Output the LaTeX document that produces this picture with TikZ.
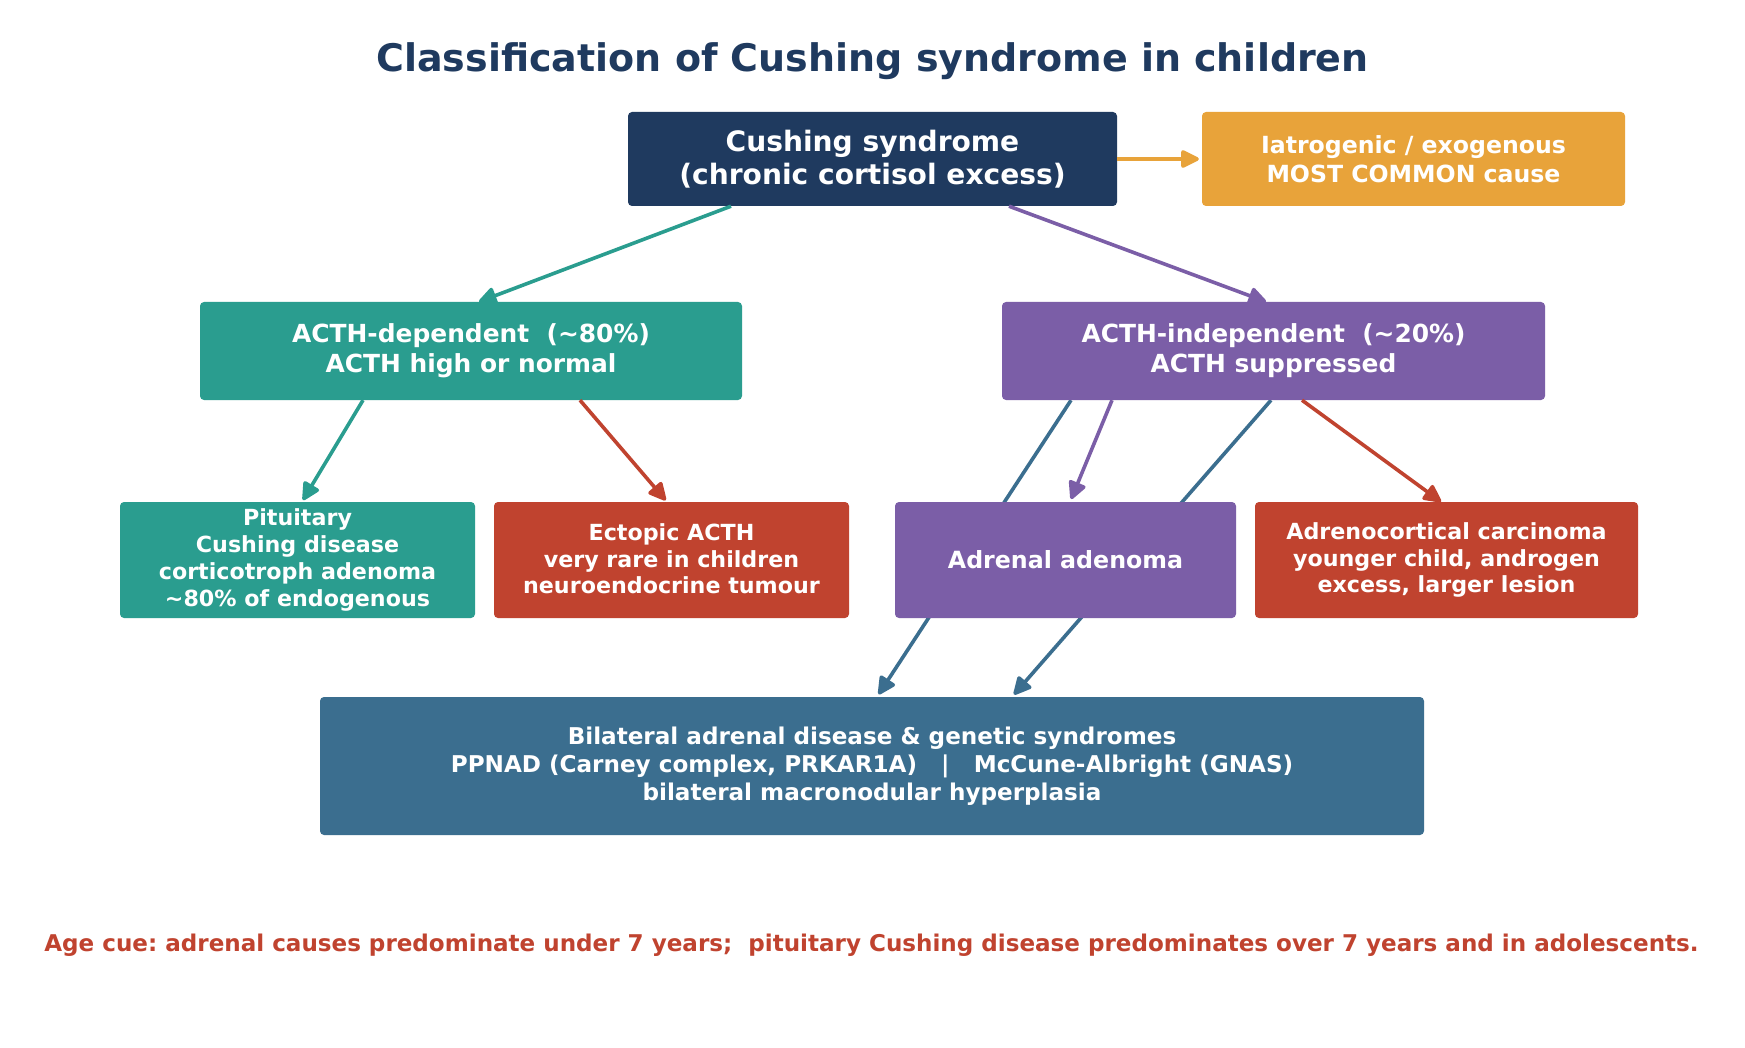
\documentclass[tikz,border=0pt]{standalone}
\usepackage{fontspec}
\setmainfont{DejaVu Sans}
\usetikzlibrary{arrows.meta}
\pgfdeclarelayer{bg}
\pgfsetlayers{bg,main}
\definecolor{navy}{HTML}{1F3A5F}
\definecolor{orng}{HTML}{E8A33A}
\definecolor{teal2}{HTML}{2A9D8F}
\definecolor{purp}{HTML}{7B5EA7}
\definecolor{redd}{HTML}{C0432F}
\definecolor{steel}{HTML}{3B6E8F}
\newcommand\fsz[2]{\bfseries\fontsize{#1}{#2}\selectfont}
\frenchspacing
\begin{document}
\begin{tikzpicture}[x=1pt,y=-1pt,
  box/.style={rectangle, rounded corners=4pt, inner sep=0pt, align=center, text=white},
  arr/.style={line width=3.6pt, -{Triangle[length=20pt,width=19pt,round]}}]
\begin{pgfonlayer}{bg}
\fill[white] (0,0) rectangle (1745,1048);
\end{pgfonlayer}
\useasboundingbox (0,0) rectangle (1745,1048);

\node[text=navy, font=\fsz{38}{45}] (title) at (872.5,61) {Classification of Cushing syndrome in children};

\node[box, fill=navy, minimum width=489pt, minimum height=94pt, font=\fsz{28.1}{32.5}] (cs) at (872.5,159) {Cushing syndrome\\(chronic cortisol excess)};
\node[box, fill=orng, minimum width=423pt, minimum height=94pt, font=\fsz{23.6}{28.5}] (iat) at (1413.5,159) {Iatrogenic / exogenous\\MOST COMMON cause};

\node[box, fill=teal2, minimum width=542pt, minimum height=98pt, font=\fsz{24.9}{30}] (dep) at (471,351) {ACTH-dependent\ \ (\textasciitilde80\%)\\ACTH high or normal};
\node[box, fill=purp, minimum width=543pt, minimum height=98pt, font=\fsz{24.9}{30}] (ind) at (1273.5,351) {ACTH-independent\ \ (\textasciitilde20\%)\\ACTH suppressed};

\node[box, fill=teal2, minimum width=355pt, minimum height=116pt, font=\fsz{22.2}{26.7}] (pit) at (297.5,560) {Pituitary\\Cushing disease\\corticotroph adenoma\\\textasciitilde80\% of endogenous};
\node[box, fill=redd, minimum width=355pt, minimum height=116pt, font=\fsz{22.2}{26.7}] (ect) at (671.5,560) {\raisebox{0pt}[0pt][0pt]{}Ectopic ACTH\\very rare in children\\neuroendocrine tumour\vspace*{2pt}};
\node[box, fill=purp, minimum width=341pt, minimum height=116pt, font=\fsz{23.7}{28}] (ade) at (1065.5,560) {Adrenal adenoma\vspace*{2pt}};
\node[box, fill=redd, minimum width=383pt, minimum height=116pt, font=\fsz{22.2}{26.7}] (acc) at (1446.5,560) {Adrenocortical carcinoma\\younger child, androgen\\excess, larger lesion};

\node[box, fill=steel, minimum width=1104pt, minimum height=138pt, font=\fsz{23.1}{27.8}] (bil) at (872,766) {Bilateral adrenal disease \& genetic syndromes\\PPNAD (Carney complex, PRKAR1A)\ \ \ |\ \ \ McCune-Albright (GNAS)\\bilateral macronodular hyperplasia};

\node[text=redd, font=\fsz{23.05}{28}] (foot) at (871.5,945) {Age cue: adrenal causes predominate under 7 years;\ \ pituitary Cushing disease predominates over 7 years and in adolescents.};

\draw[arr, orng, shorten >=3pt] (cs.east) -- (iat.west);
\draw[arr, teal2] ([xshift=-141.5pt]cs.south) -- ([xshift=8pt]dep.north);
\draw[arr, purp] ([xshift=136.5pt]cs.south) -- ([xshift=-7.5pt]ind.north);
\draw[arr, teal2, shorten >=2pt] ([xshift=-108pt]dep.south) -- ([xshift=4.5pt]pit.north);
\draw[arr, redd, shorten >=2pt] ([xshift=109pt]dep.south) -- ([xshift=-4.5pt]ect.north);
\draw[arr, purp, shorten >=3pt] ([xshift=-161.5pt]ind.south) -- ([xshift=4.5pt]ade.north);
\draw[arr, redd] ([xshift=28.5pt]ind.south) -- ([xshift=-5.5pt]acc.north);
\begin{pgfonlayer}{bg}
\draw[arr, steel, shorten >=3pt] ([xshift=-202.5pt]ind.south) -- ([xshift=5pt]bil.north);
\draw[arr, steel, shorten >=3pt] ([xshift=-2.5pt]ind.south) -- ([xshift=140pt]bil.north);
\end{pgfonlayer}
\end{tikzpicture}
\end{document}
